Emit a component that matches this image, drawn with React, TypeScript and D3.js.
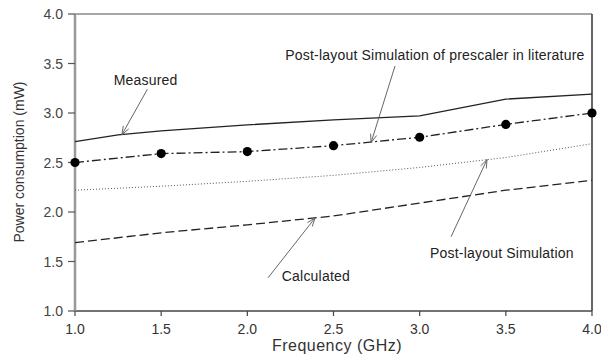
import React from 'react';
import * as d3 from 'd3';

const freq = [1.0, 1.5, 2.0, 2.5, 3.0, 3.5, 4.0];
const measuredFreq = [1.0, 1.25, 1.5, 2.0, 2.5, 3.0, 3.5, 4.0];
const measured = [2.71, 2.78, 2.82, 2.88, 2.93, 2.97, 3.14, 3.19];
const literature = [2.5, 2.59, 2.61, 2.67, 2.755, 2.885, 3.0];
const postLayout = [2.22, 2.26, 2.31, 2.37, 2.45, 2.55, 2.69];
const calculated = [1.69, 1.79, 1.87, 1.96, 2.09, 2.22, 2.32];
const xTicks = [1.0, 1.5, 2.0, 2.5, 3.0, 3.5, 4.0];
const yTicks = [1.0, 1.5, 2.0, 2.5, 3.0, 3.5, 4.0];

const annotationLabels = [
  'Measured',
  'Post-layout Simulation of prescaler in literature',
  'Post-layout Simulation',
  'Calculated',
];
// text anchor point [freq, power] and arrow [from, to] in data units
const annotationText = [
  [1.41, 3.28],
  [2.22, 3.54],
  [3.06, 1.54],
  [2.2, 1.30],
];
const annotationArrow = [
  [[1.42, 3.24], [1.272, 2.78]],
  [[2.857, 3.475], [2.718, 2.70]],
  [[3.182, 1.75], [3.391, 2.53]],
  [[2.12, 1.335], [2.393, 1.94]],
];
const annotationAnchor = ['middle', 'start', 'start', 'start'];

const W = 601;
const H = 356;
const L = 75, R = 592, T = 14, B = 311;

export default function App() {
  const x = d3.scaleLinear().domain([1, 4]).range([L, R]);
  const y = d3.scaleLinear().domain([1, 4]).range([B, T]);
  const line = d3.line<[number, number]>().x((d) => x(d[0])).y((d) => y(d[1]));
  const font = 'Liberation Sans, Arial, Helvetica, sans-serif';

  const pts = (xs: number[], ys: number[]) => xs.map((v, i) => [v, ys[i]] as [number, number]);

  const arrowHead = (x1: number, y1: number, x2: number, y2: number) => {
    const ang = Math.atan2(y2 - y1, x2 - x1);
    const len = 9;
    const spread = 0.35;
    const a1 = ang + Math.PI - spread;
    const a2 = ang + Math.PI + spread;
    return `M${x2 + len * Math.cos(a1)},${y2 + len * Math.sin(a1)}L${x2},${y2}L${x2 + len * Math.cos(a2)},${y2 + len * Math.sin(a2)}`;
  };

  return (
    <svg width={W} height={H} style={{ position: 'absolute', left: 0, top: 0, background: '#fff' }} fontFamily={font}>
      <rect x={0} y={0} width={W} height={H} fill="#fff" />
      {/* frame */}
      <line x1={L} x2={R} y1={T} y2={T} stroke="#8a8a8a" strokeWidth={1.5} />
      <line x1={R} x2={R} y1={T} y2={B} stroke="#333" strokeWidth={1.5} />
      <line x1={L} x2={R} y1={B} y2={B} stroke="#444" strokeWidth={1.6} />
      <line x1={L} x2={L} y1={T} y2={B} stroke="#999" strokeWidth={2.5} />

      {/* y ticks */}
      {yTicks.map((t) => (
        <g key={'y' + t}>
          <line x1={L - 7} x2={L} y1={y(t)} y2={y(t)} stroke="#555" strokeWidth={1.2} />
          <text x={63} y={y(t)} dy="0.36em" textAnchor="end" fontSize={14} fill="#444">
            {t.toFixed(1)}
          </text>
        </g>
      ))}
      {/* x ticks */}
      {xTicks.map((t) => (
        <g key={'x' + t}>
          <line x1={x(t)} x2={x(t)} y1={B} y2={B + 5} stroke="#444" strokeWidth={1.2} />
          <text x={x(t)} y={333.5} textAnchor="middle" fontSize={14} fill="#333">
            {t.toFixed(1)}
          </text>
        </g>
      ))}

      {/* axis titles */}
      <text x={337} y={351} textAnchor="middle" fontSize={16} fill="#333" letterSpacing={0.5}>
        Frequency (GHz)
      </text>
      <text transform={`translate(24,162) rotate(-90)`} textAnchor="middle" fontSize={14} fill="#333">
        Power consumption (mW)
      </text>

      {/* series */}
      <path d={line(pts(measuredFreq, measured)) || ''} fill="none" stroke="#222" strokeWidth={1.3} />
      <path d={line(pts(freq, literature)) || ''} fill="none" stroke="#222" strokeWidth={1.3} strokeDasharray="9,3,2,3" />
      {freq.map((f, i) => (
        <circle key={'c' + f} cx={x(f)} cy={y(literature[i])} r={4.6} fill="#000" />
      ))}
      <path d={line(pts(freq, postLayout)) || ''} fill="none" stroke="#555" strokeWidth={1} strokeDasharray="1,2" />
      <path d={line(pts(freq, calculated)) || ''} fill="none" stroke="#222" strokeWidth={1.3} strokeDasharray="9,4" />

      {/* annotations */}
      {annotationLabels.map((lab, i) => {
        const [tx, ty] = annotationText[i];
        const [[ax1, ay1], [ax2, ay2]] = annotationArrow[i];
        const X1 = x(ax1), Y1 = y(ay1), X2 = x(ax2), Y2 = y(ay2);
        return (
          <g key={'a' + i}>
            <text x={x(tx)} y={y(ty)} textAnchor={annotationAnchor[i]} fontSize={14} letterSpacing={0.2} fill="#222">
              {lab}
            </text>
            <line x1={X1} y1={Y1} x2={X2} y2={Y2} stroke="#666" strokeWidth={1} />
            <path d={arrowHead(X1, Y1, X2, Y2)} fill="none" stroke="#666" strokeWidth={1} />
          </g>
        );
      })}
    </svg>
  );
}
